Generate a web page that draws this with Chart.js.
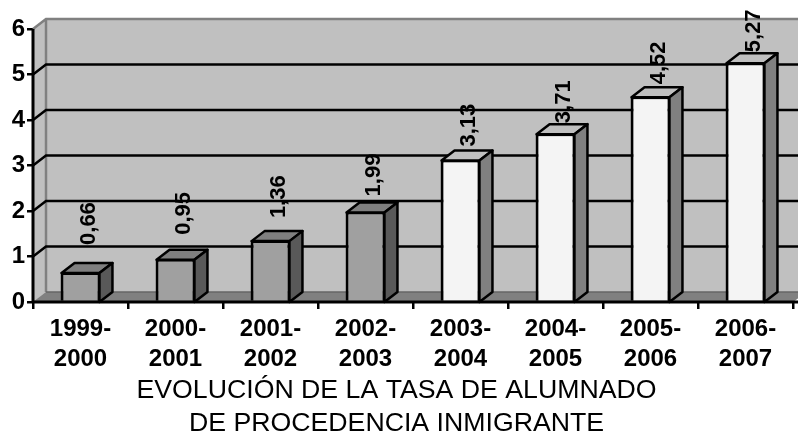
<!DOCTYPE html>
<html>
<head>
<meta charset="utf-8">
<style>
  html, body { margin: 0; padding: 0; background: #fff; }
  #wrap { width: 798px; height: 434px; }
</style>
<script src="https://cdn.jsdelivr.net/npm/chart.js@4"></script>
</head>
<body>
<div id="wrap"><canvas id="grafico" width="798" height="434"></canvas></div>
<script>
const cursos = [['1999-','2000'],['2000-','2001'],['2001-','2002'],['2002-','2003'],['2003-','2004'],['2004-','2005'],['2005-','2006'],['2006-','2007']];
const tasa = [0.66, 0.95, 1.36, 1.99, 3.13, 3.71, 4.52, 5.27];
const titulo = ['EVOLUCIÓN DE LA TASA DE ALUMNADO', 'DE PROCEDENCIA INMIGRANTE'];

const FONDO_X = 13, FONDO_Y = 10;   // desplazamiento de la pared del fondo
const GRIS = { frente: '#a0a0a0', arriba: '#7f7f7f', lado: '#595959' };
const CLARO = { frente: '#f4f4f4', arriba: '#c0c0c0', lado: '#808080' };
const colorBarra = i => i < 4 ? GRIS : CLARO;
const huecoEtiqueta = [17, 14, 12, 5, 3, 0, 2, 0];

const fondo3d = {
    id: 'fondo3d',
    beforeDatasetsDraw(chart) {
        const { ctx, chartArea: a, scales: { y } } = chart;
        ctx.save();
        // pared izquierda y pared del fondo
        ctx.fillStyle = '#c0c0c0';
        ctx.strokeStyle = '#808080';
        ctx.lineWidth = 2.5;
        ctx.beginPath();
        ctx.moveTo(a.left, a.top);
        ctx.lineTo(a.left + FONDO_X, a.top - FONDO_Y);
        ctx.lineTo(a.right + FONDO_X, a.top - FONDO_Y);
        ctx.lineTo(a.right + FONDO_X, a.bottom - FONDO_Y);
        ctx.lineTo(a.right, a.bottom);
        ctx.lineTo(a.left, a.bottom);
        ctx.closePath();
        ctx.fill();
        ctx.beginPath();
        ctx.moveTo(a.left, a.top);
        ctx.lineTo(a.left + FONDO_X, a.top - FONDO_Y);
        ctx.lineTo(a.right + FONDO_X, a.top - FONDO_Y);
        ctx.moveTo(a.left + FONDO_X, a.top - FONDO_Y);
        ctx.lineTo(a.left + FONDO_X, a.bottom - FONDO_Y);
        ctx.stroke();
        // lineas de la cuadricula
        ctx.strokeStyle = '#000';
        ctx.lineWidth = 2.5;
        y.ticks.forEach(t => {
            if (t.value === 0 || t.value === 6) return;
            const py = y.getPixelForValue(t.value);
            ctx.beginPath();
            ctx.moveTo(a.left, py);
            ctx.lineTo(a.left + FONDO_X, py - FONDO_Y);
            ctx.lineTo(a.right + FONDO_X, py - FONDO_Y);
            ctx.stroke();
        });
        // suelo
        ctx.fillStyle = '#808080';
        ctx.beginPath();
        ctx.moveTo(a.left, a.bottom);
        ctx.lineTo(a.left + FONDO_X, a.bottom - FONDO_Y);
        ctx.lineTo(a.right + FONDO_X, a.bottom - FONDO_Y);
        ctx.lineTo(a.right, a.bottom);
        ctx.closePath();
        ctx.fill();
        ctx.strokeStyle = '#666';
        ctx.lineWidth = 1.5;
        ctx.beginPath();
        ctx.moveTo(a.left + FONDO_X, a.bottom - FONDO_Y);
        ctx.lineTo(a.right + FONDO_X, a.bottom - FONDO_Y);
        ctx.stroke();
        ctx.restore();
    },
    afterDatasetsDraw(chart) {
        const { ctx, chartArea: a } = chart;
        const barras = chart.getDatasetMeta(0).data;
        ctx.save();
        ctx.strokeStyle = '#000';
        ctx.lineWidth = 2.5;
        ctx.lineJoin = 'round';
        barras.forEach((b, i) => {
            const izq = b.x - b.width / 2, der = b.x + b.width / 2;
            const c = colorBarra(i);
            ctx.fillStyle = c.arriba;
            ctx.beginPath();
            ctx.moveTo(izq + 1, b.y + 1);
            ctx.lineTo(izq + 1 + FONDO_X, b.y + 1 - FONDO_Y);
            ctx.lineTo(der - 1 + FONDO_X, b.y + 1 - FONDO_Y);
            ctx.lineTo(der - 1, b.y + 1);
            ctx.closePath();
            ctx.fill();
            ctx.stroke();
            ctx.fillStyle = c.lado;
            ctx.beginPath();
            ctx.moveTo(der - 1, b.y + 1);
            ctx.lineTo(der - 1 + FONDO_X, b.y + 1 - FONDO_Y);
            ctx.lineTo(der - 1 + FONDO_X, a.bottom - FONDO_Y);
            ctx.lineTo(der - 1, a.bottom);
            ctx.closePath();
            ctx.fill();
            ctx.stroke();
            // etiqueta girada
            ctx.save();
            ctx.translate(b.x + 8, b.y - FONDO_Y - huecoEtiqueta[i]);
            ctx.rotate(-Math.PI / 2);
            ctx.fillStyle = '#000';
            ctx.font = 'bold 22px "Liberation Sans"';
            ctx.textAlign = 'left';
            ctx.textBaseline = 'middle';
            ctx.fillText(tasa[i].toFixed(2).replace('.', ','), 0, 0);
            ctx.restore();
        });
        // ejes por encima de las barras
        ctx.lineWidth = 3;
        ctx.lineCap = 'butt';
        ctx.beginPath();
        ctx.moveTo(a.left, a.top);
        ctx.lineTo(a.left, a.bottom);
        ctx.lineTo(798, a.bottom);
        ctx.stroke();
        ctx.restore();
    }
};

new Chart(document.getElementById('grafico'), {
    type: 'bar',
    data: {
        labels: cursos,
        datasets: [{
            data: tasa,
            backgroundColor: tasa.map((_, i) => colorBarra(i).frente),
            borderColor: '#000',
            borderWidth: 3,
            categoryPercentage: 0.42,
            barPercentage: 1
        }]
    },
    plugins: [fondo3d],
    options: {
        responsive: false,
        animation: false,
        layout: { padding: { top: 29, right: 5, left: 0, bottom: 0 } },
        plugins: {
            legend: { display: false },
            tooltip: { enabled: false },
            title: {
                display: true,
                position: 'bottom',
                text: titulo,
                color: '#000',
                font: { family: '"Liberation Sans"', size: 26.7, weight: 'normal', lineHeight: 1.236 },
                padding: { top: 0, bottom: -6 }
            }
        },
        scales: {
            x: {
                afterFit(s) { s.height = 72; },
                grid: { drawOnChartArea: false, color: '#000', lineWidth: 2.5, tickLength: 7 },
                border: { display: false },
                ticks: { color: '#000', maxRotation: 0, autoSkip: false, padding: 5, font: { family: '"Liberation Sans"', size: 24, weight: 'bold', lineHeight: 1.25 } }
            },
            y: {
                min: 0,
                max: 6,
                afterFit(s) { s.width = 33; },
                grid: { drawOnChartArea: false, color: '#000', lineWidth: 2.5, tickLength: 6 },
                border: { display: false },
                ticks: { stepSize: 1, color: '#000', padding: 2, font: { family: '"Liberation Sans"', size: 24, weight: 'bold' } }
            }
        }
    }
});
</script>
</body>
</html>
